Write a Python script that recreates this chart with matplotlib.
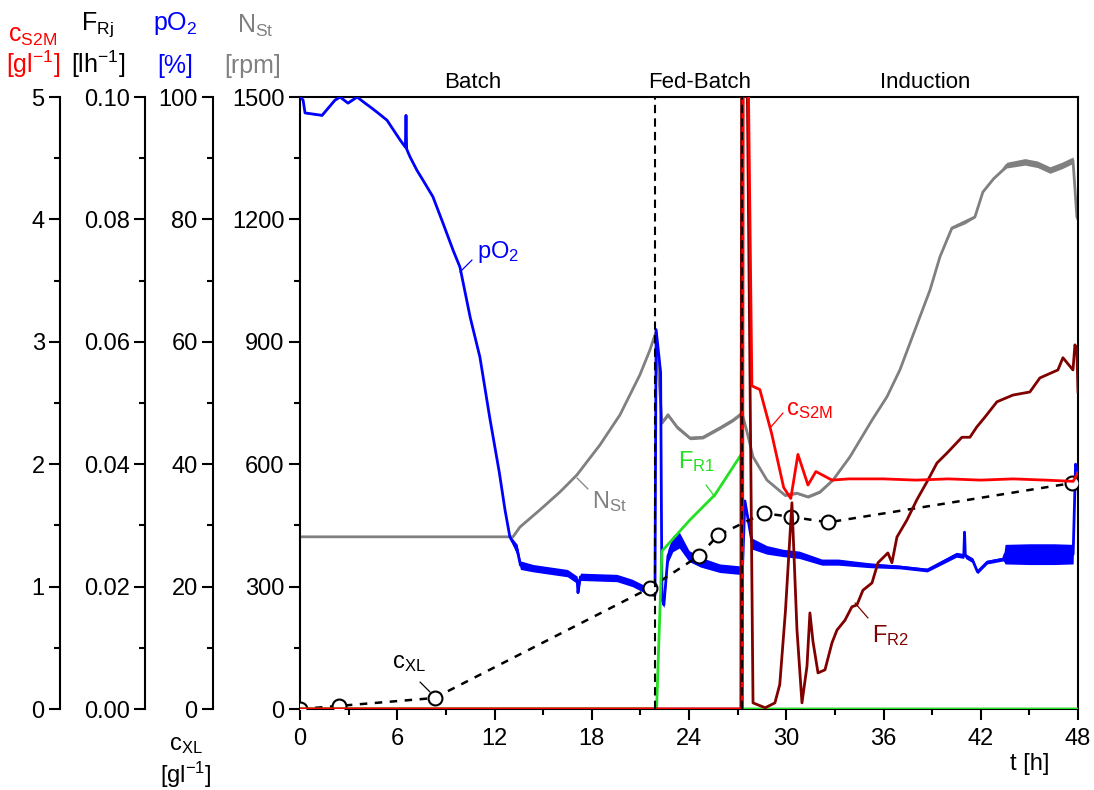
import matplotlib
matplotlib.use("Agg")
import matplotlib.pyplot as plt
import numpy as np

plt.rcParams['font.family'] = ['Liberation Sans', 'DejaVu Sans']
plt.rcParams['mathtext.fontset'] = 'custom'
plt.rcParams['mathtext.rm'] = 'Liberation Sans'
plt.rcParams['mathtext.it'] = 'Liberation Sans'
plt.rcParams['mathtext.bf'] = 'Liberation Sans:bold'
plt.rcParams['mathtext.default'] = 'regular'

# ---------------- data ----------------
# stirrer speed N_St [rpm]
nst_t = [0, 13.14, 13.57, 14.8, 16.04, 17.09, 18.5, 19.74, 20.97, 21.59, 21.96, 22.33, 22.7, 23.26,
         24.06, 24.86, 25.91, 26.71, 27.27, 27.58, 27.95, 28.81, 29.92, 30.66, 31.34, 32.08, 32.88,
         33.93, 35.29, 36.21, 37.01, 37.94, 38.87, 39.48, 40.22, 41.02, 41.64, 42.13, 42.8, 43.37,
         43.6, 44.73, 45.5, 46.27, 47.0, 47.69, 47.93, 48.0]
nst_v = [422, 422, 446, 488, 532, 574, 647, 721, 819, 880, 924, 701, 721, 691,
         664, 666, 689, 708, 725, 679, 618, 561, 524, 529, 520, 532, 561,
         618, 708, 765, 831, 929, 1027, 1108, 1179, 1194, 1206, 1267, 1300, 1321,
         1333, 1341, 1335, 1321, 1332, 1345, 1206, 1200]
nst_hw = [1, 1, 1, 1, 1, 1, 1, 1, 1, 1, 1, 3, 5, 5,
          4, 4, 4, 4, 4, 3, 2, 2, 3, 3, 3, 3, 2,
          1, 1, 1, 1, 1, 1, 1, 3, 5, 2, 1, 1, 2,
          7, 8, 8, 8, 8, 8, 1, 1]

# dissolved oxygen pO2 [%]
po2_t = [0, 0.19, 0.31, 1.36, 2.16, 2.47, 2.96, 3.52, 4.01, 4.32, 4.81, 5.37, 6.17, 6.5, 6.54, 6.58,
         6.79, 7.22, 7.59, 8.2, 8.82, 9.44, 9.87, 10.5, 11.1, 11.7, 12.3, 12.65, 12.95, 13.4, 13.6,
         14.4, 16.5, 17.1, 17.15, 17.3, 19.55, 20.5, 21.4, 21.9, 21.97, 22.25, 22.33, 22.45, 22.7,
         23.0, 23.4, 24.0, 24.7, 25.9, 27.1, 27.3, 27.45, 27.9, 28.8, 29.8, 30.8, 32.2, 33.2, 35.1,
         37.0, 38.7, 40.5, 40.95, 41.0, 41.05, 41.5, 41.8, 42.4, 43.4, 43.5, 45.0, 46.5, 47.7, 47.85, 48.0]
po2_v = [100, 99.5, 97.4, 97, 99.5, 100, 99, 100, 99, 98.4, 97.4, 96.2, 93, 91.8, 97, 91.5,
         90.2, 88, 86.4, 83.7, 79.4, 75, 72.2, 64, 57.5, 47.7, 38.6, 32.5, 28.1, 26, 23.5,
         23, 22.2, 21.1, 19, 21.6, 21.4, 20.6, 19.4, 18.6, 62, 55, 18, 17, 25,
         27, 27.6, 25, 24, 23, 22.7, 23, 34, 27, 26, 25.5, 25.2, 24, 24, 23.5,
         23.2, 22.7, 25.2, 25, 28.9, 25, 24.3, 22.4, 24, 24.5, 25.3, 25.3, 25.3, 25.3, 40, 39]
po2_hw = [0.1, 0.1, 0.1, 0.1, 0.1, 0.1, 0.1, 0.1, 0.1, 0.1, 0.1, 0.1, 0.1, 0.1, 0.1, 0.1,
          0.1, 0.1, 0.1, 0.1, 0.1, 0.1, 0.1, 0.1, 0.1, 0.1, 0.1, 0.1, 0.3, 0.9, 0.7,
          0.6, 0.6, 0.6, 0.2, 0.6, 0.6, 0.6, 0.6, 0.3, 0.1, 0.1, 0.3, 0.5, 1.1,
          1.3, 1.3, 0.9, 0.8, 0.7, 0.7, 0.3, 0.2, 0.9, 0.7, 0.6, 0.6, 0.5, 0.5, 0.4,
          0.3, 0.3, 0.4, 0.4, 0.2, 0.4, 0.4, 0.3, 0.3, 0.3, 1.6, 1.7, 1.7, 1.6, 0.2, 0.2]

# biomass c_XL [g/l]
cxl_t = [0, 2.4, 8.3, 21.6, 24.6, 25.8, 28.6, 30.3, 32.6, 47.6]
cxl_v = [0, 0.5, 1.8, 19.8, 25.0, 28.4, 32.0, 31.4, 30.5, 36.9]

# substrate c_S2M [g/l]
cs_t = [0, 27.3, 27.35, 27.62, 27.88, 28.37, 29.1, 29.84, 30.28, 30.72, 31.34, 31.83, 32.82,
        33.87, 36, 38, 40, 42, 44, 46, 47.7, 48]
cs_v = [0, 0, 5.6, 5.6, 2.64, 2.61, 2.25, 1.81, 1.72, 2.08, 1.83, 1.94, 1.87,
        1.88, 1.88, 1.87, 1.88, 1.87, 1.88, 1.87, 1.86, 1.93]

# feed rates F_R1, F_R2 [l/h]
fr1_t = [0, 22.0, 22.33, 24.06, 25.6, 27.2, 27.25, 48]
fr1_v = [0, 0, 0.0258, 0.0309, 0.0350, 0.0415, 0, 0]

fr2_t = [0, 27.2, 27.25, 27.55, 27.95, 28.7, 29.3, 29.6, 29.95, 30.35, 30.66, 30.97, 31.28,
         31.46, 31.65, 31.96, 32.39, 32.82, 33.13, 33.62, 34.05, 34.36, 34.73, 35.29, 35.66,
         36.27, 36.52, 36.83, 37.45, 38.06, 38.74, 39.3, 39.91, 40.84, 41.33, 41.76, 42.26,
         43.0, 43.99, 45.03, 45.65, 46.76, 47.07, 47.69, 47.81, 47.93, 48.0]
fr2_v = [0, 0, 0.115, 0.115, 0.001, 0.0002, 0.001, 0.004, 0.016, 0.0337, 0.013, 0.001, 0.007,
         0.0157, 0.011, 0.0059, 0.0064, 0.0108, 0.0129, 0.0145, 0.0167, 0.0170, 0.0194, 0.0206, 0.0239,
         0.0255, 0.0239, 0.0281, 0.0309, 0.0342, 0.0374, 0.0402, 0.0418, 0.0444, 0.0444, 0.0461, 0.0477,
         0.0502, 0.0513, 0.0518, 0.0541, 0.0554, 0.0574, 0.0554, 0.0595, 0.0587, 0.0518]

phase_bounds = [21.9, 27.3]
phase_labels = ["Batch", "Fed-Batch", "Induction"]

# ---------------- figure ----------------
W, H = 1094, 790
fig = plt.figure(figsize=(W / 100, H / 100), dpi=100)
X0, X1, Y0, Y1 = 300, 1078, 97, 709
ax = fig.add_axes([X0 / W, 1 - Y1 / H, (X1 - X0) / W, (Y1 - Y0) / H])

FS = 17
RED, BLUE, GRAY, GREEN, DRED = '#ff0000', '#0000ff', '#808080', '#22e022', '#800000'
LW = 2.0


def style_left(a, lo, hi, major, fmt):
    a.set_ylim(lo, hi)
    a.set_yticks(np.arange(lo, hi + major / 2, major))
    a.set_yticks(np.arange(lo + major / 2, hi, major), minor=True)
    a.yaxis.set_major_formatter(matplotlib.ticker.FormatStrFormatter(fmt))
    a.tick_params(axis='y', which='major', direction='out', length=8, width=1.5,
                  labelsize=FS, pad=3, left=True, right=False, labelleft=True, labelright=False)
    a.tick_params(axis='y', which='minor', direction='out', length=4, width=1.5,
                  left=True, right=False)


def make_twin(pos):
    a = ax.twinx()
    a.yaxis.tick_left()
    a.yaxis.set_label_position('left')
    for s in ['right', 'top', 'bottom']:
        a.spines[s].set_visible(False)
    a.spines['left'].set_visible(True)
    a.spines['left'].set_position(('axes', pos))
    a.spines['left'].set_linewidth(1.5)
    a.patch.set_visible(False)
    return a


ax_p = make_twin((213 - X0) / (X1 - X0))
ax_f = make_twin((145 - X0) / (X1 - X0))
ax_c = make_twin((60 - X0) / (X1 - X0))

ax.set_zorder(1)
ax_p.set_zorder(2)
ax_f.set_zorder(3)
ax_c.set_zorder(4)

# main axis (N_St)
ax.set_xlim(0, 48)
style_left(ax, 0, 1500, 300, '%d')
ax.set_xticks(np.arange(0, 49, 6))
ax.set_xticks(np.arange(3, 48, 6), minor=True)
ax.tick_params(axis='x', which='major', direction='out', length=8, width=1.5, labelsize=FS, pad=6,
               top=False)
ax.tick_params(axis='x', which='minor', direction='out', length=4, width=1.5, top=False)
ax.tick_params(axis='y', right=False)
for s in ax.spines.values():
    s.set_linewidth(1.5)

style_left(ax_p, 0, 100, 20, '%d')
style_left(ax_f, 0, 0.10, 0.02, '%.2f')
style_left(ax_c, 0, 5, 1, '%d')

# ---------------- data lines ----------------
nst_t_a, nst_v_a, nst_hw_a = map(np.asarray, (nst_t, nst_v, nst_hw))
ax.fill_between(nst_t_a, nst_v_a - nst_hw_a, nst_v_a + nst_hw_a, color=GRAY, lw=0)
ax.plot(nst_t, nst_v, color=GRAY, lw=LW)

po2_t_a, po2_v_a, po2_hw_a = map(np.asarray, (po2_t, po2_v, po2_hw))
ax_p.fill_between(po2_t_a, po2_v_a - po2_hw_a, po2_v_a + po2_hw_a, color=BLUE, lw=0)
ax_p.plot(po2_t, po2_v, color=BLUE, lw=LW)
ax_p.plot(cxl_t, cxl_v, color='black', lw=1.8, ls=(0, (3, 3)), marker='o', ms=10,
          mfc='white', mec='black', mew=1.5, zorder=5)

ax_f.plot(fr1_t, fr1_v, color=GREEN, lw=LW)
ax_f.plot(fr2_t, fr2_v, color=DRED, lw=LW)

ax_c.plot(cs_t, cs_v, color=RED, lw=LW)
for tb in phase_bounds:
    ax_c.axvline(tb, color='black', lw=1.5, ls=(0, (4, 2.5)), zorder=6)


# ---------------- annotations ----------------
def px(x, y):
    """pixel -> main axis data coordinates"""
    return ((x - X0) / (X1 - X0) * 48, (Y1 - y) / (Y1 - Y0) * 1500)


def label(txt, color, tx, ty, l0, l1):
    ax_c.annotate('', xy=px(*l0), xytext=px(*l1), xycoords=ax.transData, textcoords=ax.transData,
                  arrowprops=dict(arrowstyle='-', color=color, lw=0.9, shrinkA=0, shrinkB=0))
    ax_c.text(*px(tx, ty), txt, color=color, fontsize=FS, ha='left', va='baseline',
              transform=ax.transData, zorder=10)


label('pO$_2$', BLUE, 477, 258, (460, 272), (472, 260))
label('N$_{St}$', GRAY, 592, 508, (577, 478), (588, 489))
label('c$_{S2M}$', RED, 786, 415, (770, 428), (783, 413))
label('F$_{R1}$', GREEN, 678, 468, (706, 485), (715, 497))
label('F$_{R2}$', DRED, 872, 642, (855, 603), (868, 618))
label('c$_{XL}$', 'black', 392, 668, (420, 682), (430, 692))

# phase labels
for txt, xc in zip(phase_labels, [473, 700, 925]):
    fig.text(xc / W, 1 - 88 / H, txt, fontsize=16, ha='center', va='baseline')


def ftxt(x, y, s, c, fs=FS):
    fig.text(x / W, 1 - y / H, s, color=c, fontsize=fs, ha='center', va='baseline')


ftxt(33, 42, 'c$_{S2M}$', RED, 18)
ftxt(33, 73, '[gl$^{-1}$]', RED, 18)
ftxt(97, 30, 'F$_{Rj}$', 'black', 18)
ftxt(98, 73, '[lh$^{-1}$]', 'black', 18)
ftxt(175, 30, 'pO$_2$', BLUE, 18)
ftxt(175, 73, '[%]', BLUE, 18)
ftxt(255, 33, 'N$_{St}$', GRAY, 18)
ftxt(253, 73, '[rpm]', GRAY, 18)
ftxt(186, 750, 'c$_{XL}$', 'black')
ftxt(186, 783, '[gl$^{-1}$]', 'black')
ftxt(1030, 770, 't [h]', 'black')

fig.savefig('out.png', dpi=100)
